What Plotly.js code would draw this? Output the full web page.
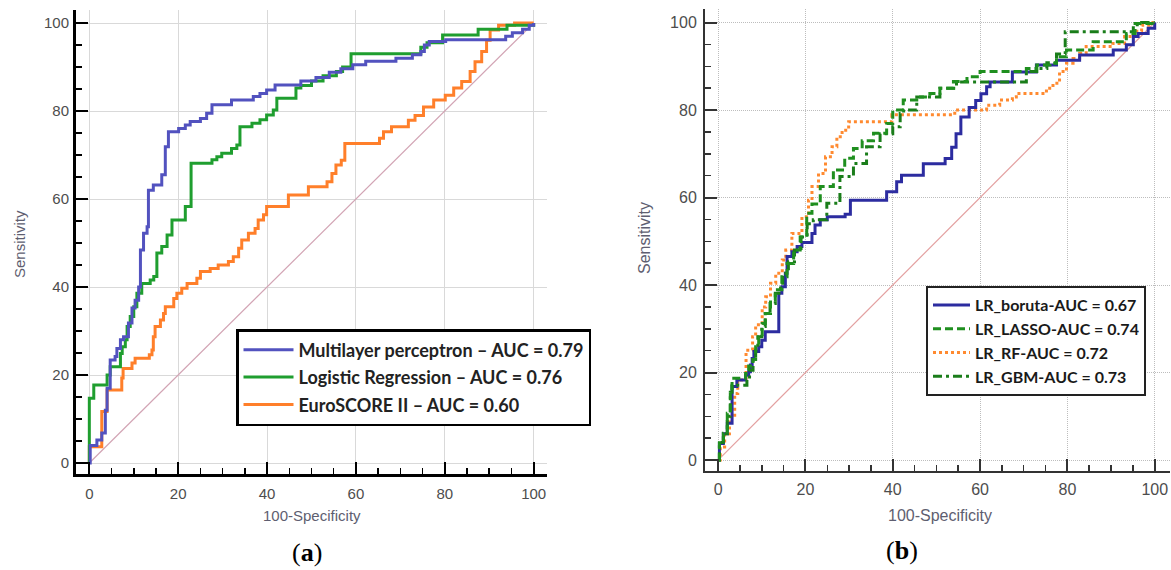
<!DOCTYPE html>
<html>
<head>
<meta charset="utf-8">
<script src="https://cdn.plot.ly/plotly-3.0.1.min.js"></script>
<style>html,body{margin:0;padding:0;background:#fff;}#chart{width:1171px;height:570px;}</style>
</head>
<body>
<div id="chart"></div>
<script>
// ---------- Panel (a) data: ROC step points (100-Specificity, Sensitivity) ----------
const mlpX = [0,0.2,1.7,2.8,3.6,4,4.7,5.8,6.2,7,7.7,8.8,9.6,10.3,11.1,11.5,12.2,13,13.3,14.4,16.3,17.1,17.8,20.1,21.6,22.7,25,26.4,27.6,32,36.9,38.4,39.9,41.8,47.6,51,54,56.6,59.3,62.2,69,72.7,74.6,75.4,76.5,80.2,93.7,95.2,97.5,99,100];
const mlpY = [0,4,5.2,6.8,12,17,23.4,24.2,26,28,28.7,31.8,35.2,37,40,48.4,52.2,53.7,62,63.2,65.5,71.9,75.3,76,76.8,77.6,78.3,79.5,81.4,82.5,83.3,84,84.8,85.9,86.8,87.6,88.8,89.6,90.5,91.3,92,92.8,93.5,95,95.8,96.2,97,97.8,98.6,99.5,100];

const lrX = [0,0,1,4,4.7,7,7.4,8.1,8.5,9.2,10,10.7,11.8,13.7,14.5,15.2,16.3,17.5,18.6,21.6,22.9,27.6,28.7,29.8,32,33.2,33.9,36.6,38.4,39.9,41.4,42.2,46.5,47.6,50,52.6,55.6,57,58.9,74.6,76,79.5,87.5,94,100];
const lrY = [0,14.7,17.7,20,21.9,24.9,26.4,28,31,33.3,35.5,38.6,40.8,41.6,42.4,47.7,49.2,51.8,55.2,58.3,68.1,68.9,69.6,70.4,71.5,72.3,76.4,77.2,78,79.1,80.2,82.9,85.2,85.8,86.8,88,89,90,93,94.5,95.5,97.3,98.6,99.5,100];

const euroX = [0,0,2.8,4,7.3,7.6,9.6,10.3,13.5,14.1,14.4,14.8,16,16.7,17.1,19,19.7,20.8,22,24.2,25,27.2,29,31.3,32.4,33.6,34.3,35.8,37.3,38,39.2,39.9,44.8,49.3,53.5,54.6,55.5,56.7,57.5,65.3,66.2,68,71.8,73.3,75.2,77.5,80.1,82,83.8,85.7,86.8,88.3,89.4,90.2,92.1,95.7,100];
const euroY = [0,3.7,11.7,16.6,19.3,21.5,22.7,23.8,24.6,25.7,28.7,31,32.5,34,35.5,37.4,38.6,39.7,40.8,42,43.5,44.2,45,45.8,46.9,48.8,50.7,52.2,53.3,55.2,56.4,58.3,60.9,62.8,63.9,65.8,67.7,68.8,72.6,73.8,75.3,76.4,77.9,79,80.9,82.5,83.6,85.2,86.7,89,91.2,93.5,96.1,98.4,99.5,100,100];

const namesA = ["Multilayer perceptron \u2013 AUC = 0.79", "Logistic Regression \u2013 AUC = 0.76", "EuroSCORE II \u2013 AUC = 0.60"];

// ---------- Panel (b) data ----------
const borutaX = [0,0.3,1.2,2.1,3.2,4.3,6.3,7,7.4,7.8,8.2,9.3,10,10.8,13.9,14.6,15.4,15.8,16.9,18.1,19.2,21.5,22.2,23.4,25,29.1,30.3,38.6,40.9,42,47,52,53.5,54.5,55.6,57.5,59,60.2,61.5,62.3,67.4,72.9,77.5,82.8,90.5,93.5,95.1,96.2,98.5,100];
const borutaY = [0,3.8,6,8.4,16.8,18.3,19.4,20.2,21.7,23.2,24.8,25.9,27.4,29.3,38.1,39.6,42.7,46.5,47.6,48.8,49.7,51.8,53.7,54.9,55.6,56.2,59.4,61.3,63.6,65.1,67.7,68.9,71.5,74.6,78.4,80.6,82.2,83.7,85.3,86.4,88.7,90.3,91.4,92.6,93.7,94.9,96.8,97.5,98.7,100];

const lassoX = [0,0.3,1.2,2.1,2.8,3.2,6.3,7,8,8.6,9.3,10.1,10.8,12,13.1,14.6,15.8,17.3,18.8,20.3,21.5,23.4,26.4,29,31,33,35.6,38.6,40,42.4,45.5,48.5,50.8,53.9,57,60,70.6,73,76,77.5,79.8,85.9,93.5,95.5,100];
const lassoY = [0,4.6,6.1,10.7,16,18.7,19.8,21.5,23,25.9,28.2,31.2,33.5,36.6,38.9,41.9,44.9,48,51,56.4,58.5,62.5,66.3,69,71.2,73,74.7,76.9,80,82.3,83,83.8,85,86.5,87.6,88.8,89.5,90.3,90.7,92.2,93.7,95.6,97.5,99.8,100];

const rfX = [0,0.5,1.5,2.6,3.8,4.5,6.4,7.9,8.6,10.1,10.9,12,13.2,14.7,15.5,16.9,19.2,20.7,21.5,23,24.6,26.1,27.2,28.4,29.9,39.8,54.2,61.5,64.5,67.4,68.3,75.2,76.7,78.2,79.8,81.3,82.8,84.3,90.4,93.1,95.1,97,99.6,100];
const rfY = [0,3,6,9.9,15.2,18.3,25.1,28.2,30.9,35,37.3,40.4,42.7,45.7,48,51.8,55.6,59.4,62.5,65.5,69.3,71.6,73.9,75.4,77.3,78.9,80,81.1,82.3,83,83.8,85,86.1,88.8,90.7,91.8,93,94.5,95.2,96.8,98,99.4,100,100];

const gbmX = [0,0.3,1.2,2.1,2.8,3.2,6.6,7.2,8,8.6,9.1,10,10.8,11.9,13.1,14.3,14.8,16.1,17.5,19,20.4,21.8,24.9,27.9,31,34,37.1,40,41.7,42.5,45.5,50.8,54.6,70.6,73,75.3,77.5,79.5,95.1,97,100];
const gbmY = [0,4,6,10,15.5,17.1,18.5,20.5,22.9,25.1,28.2,30.5,33.5,35.8,38.1,40,42.7,45.3,48,51,54,54.9,58.7,64.8,67.8,71.6,74.6,76.2,79.2,80,83,85,86.4,88.8,89.5,90.8,92.8,97.9,99.5,100,100];

const namesB = ["LR_boruta-AUC = 0.67", "LR_LASSO-AUC = 0.74", "LR_RF-AUC = 0.72", "LR_GBM-AUC = 0.73"];

const diagX = [0, 100];
const diagY = [0, 100];

const W = 1171, H = 570;
const px = v => v / W;
const py = v => (H - v) / H;

function stepTrace(x, y, name, color, width, dash, xa, ya, legend, rank, group) {
  const t = {x: x, y: y, name: name, type: 'scatter', mode: 'lines',
    line: {shape: 'hv', color: color, width: width, dash: dash},
    xaxis: xa, yaxis: ya, legend: legend, legendrank: rank, hoverinfo: 'skip'};
  if (group) t.legendgroup = group;
  return t;
}

const traces = [
  {x: diagX, y: diagY, type: 'scatter', mode: 'lines', line: {color: '#d2a4b4', width: 1.2}, showlegend: false, xaxis: 'x', yaxis: 'y', hoverinfo: 'skip'},
  {x: diagX, y: diagY, type: 'scatter', mode: 'lines', line: {color: '#e3a0a0', width: 1.2}, showlegend: false, xaxis: 'x2', yaxis: 'y2', hoverinfo: 'skip'},
  stepTrace(euroX, euroY, namesA[2], '#ff7f2a', 3, 'solid', 'x', 'y', 'legend', 3, 'a3'),
  stepTrace(lrX, lrY, namesA[1], '#1f9e2f', 3, 'solid', 'x', 'y', 'legend', 2, 'a2'),
  stepTrace(mlpX, mlpY, namesA[0], '#5252bf', 3, 'solid', 'x', 'y', 'legend', 1, 'a1'),
  stepTrace(rfX, rfY, namesB[2], '#ff8a30', 3, 'dot', 'x2', 'y2', 'legend2', 3),
  stepTrace(borutaX, borutaY, namesB[0], '#2c2ca0', 3, 'solid', 'x2', 'y2', 'legend2', 1),
  stepTrace(gbmX, gbmY, namesB[3], '#1a7d1a', 3, '9px,4px,3px,4px', 'x2', 'y2', 'legend2', 4),
  stepTrace(lassoX, lassoY, namesB[1], '#1f8f1f', 3, '8px,4px', 'x2', 'y2', 'legend2', 2)
];

const tickFontA = {family: 'Liberation Sans, Arial, sans-serif', size: 15, color: '#4d4d4d'};
const tickFontB = {family: 'Liberation Sans, Arial, sans-serif', size: 16, color: '#4d4d4d'};

function axis(domain, range, lineColor, lineWidth, font, standoff, gridColor, gridDash) {
  return {
    domain: domain, range: range, autorange: false, tick0: 0, dtick: 20,
    ticks: 'inside', ticklen: 12, tickwidth: 2, tickcolor: lineColor,
    showline: true, linecolor: lineColor, linewidth: lineWidth,
    showgrid: true, gridcolor: gridColor, gridwidth: 1, griddash: gridDash, zeroline: false,
    minor: {ticks: 'inside', ticklen: 6, dtick: 5, tick0: 0, tickcolor: lineColor, tickwidth: 1.5, showgrid: false},
    tickfont: font, ticklabelstandoff: standoff, fixedrange: true
  };
}

const titleFont = {family: 'Liberation Sans, Arial, sans-serif', size: 15, color: '#5e5e70'};
const titleFontB = {family: 'Liberation Sans, Arial, sans-serif', size: 16, color: '#5e5e70'};
const labelFont = {family: 'Liberation Serif, DejaVu Serif, serif', size: 26, color: '#000'};

const layout = {
  width: W, height: H,
  margin: {l: 0, r: 0, t: 0, b: 0},
  paper_bgcolor: '#fff', plot_bgcolor: '#fff',
  xaxis: Object.assign(axis([px(76), px(547)], [-3, 103], '#000', 3, tickFontA, 4, '#d9d9d9', 'solid'), {anchor: 'y'}),
  yaxis: Object.assign(axis([py(474), py(9.8)], [-2.5, 103], '#000', 3, tickFontA, 1, '#d9d9d9', 'solid'), {anchor: 'x'}),
  xaxis2: Object.assign(axis([px(705), px(1170)], [-3, 103.5], '#333', 2, tickFontB, 3, '#bdbdbd', '1px,1px'), {anchor: 'y2'}),
  yaxis2: Object.assign(axis([py(471), py(9.4)], [-2.5, 103], '#333', 2, tickFontB, 3, '#bdbdbd', '1px,1px'), {anchor: 'x2'}),
  legend: {x: px(236), y: py(329), xanchor: 'left', yanchor: 'top', bgcolor: '#fff',
    bordercolor: '#000', borderwidth: 2.5, traceorder: 'grouped', tracegroupgap: 1, itemwidth: 50,
    font: {family: 'Lato, sans-serif', size: 18, color: '#222', weight: 700}},
  legend2: {x: px(926), y: py(286), xanchor: 'left', yanchor: 'top', bgcolor: '#fff',
    bordercolor: '#222', borderwidth: 2, traceorder: 'normal', itemwidth: 37,
    font: {family: 'Lato, sans-serif', size: 16, color: '#1a1a1a', weight: 700}},
  annotations: [
    {text: 'Sensitivity', xref: 'paper', yref: 'paper', x: px(19), y: py(244), textangle: -90, showarrow: false, font: titleFont, xanchor: 'center', yanchor: 'middle'},
    {text: 'Sensitivity', xref: 'paper', yref: 'paper', x: px(645), y: py(238), textangle: -90, showarrow: false, font: titleFontB, xanchor: 'center', yanchor: 'middle'},
    {text: '100-Specificity', xref: 'paper', yref: 'paper', x: px(312), y: py(515), showarrow: false, font: titleFont, xanchor: 'center', yanchor: 'middle'},
    {text: '100-Specificity', xref: 'paper', yref: 'paper', x: px(940), y: py(515), showarrow: false, font: titleFontB, xanchor: 'center', yanchor: 'middle'},
    {text: '(<b>a</b>)', xref: 'paper', yref: 'paper', x: px(307), y: py(552), showarrow: false, font: labelFont, xanchor: 'center', yanchor: 'middle'},
    {text: '(<b>b</b>)', xref: 'paper', yref: 'paper', x: px(902), y: py(550), showarrow: false, font: labelFont, xanchor: 'center', yanchor: 'middle'}
  ],
  showlegend: true
};

Plotly.newPlot('chart', traces, layout, {staticPlot: true, displayModeBar: false});
</script>
</body>
</html>
